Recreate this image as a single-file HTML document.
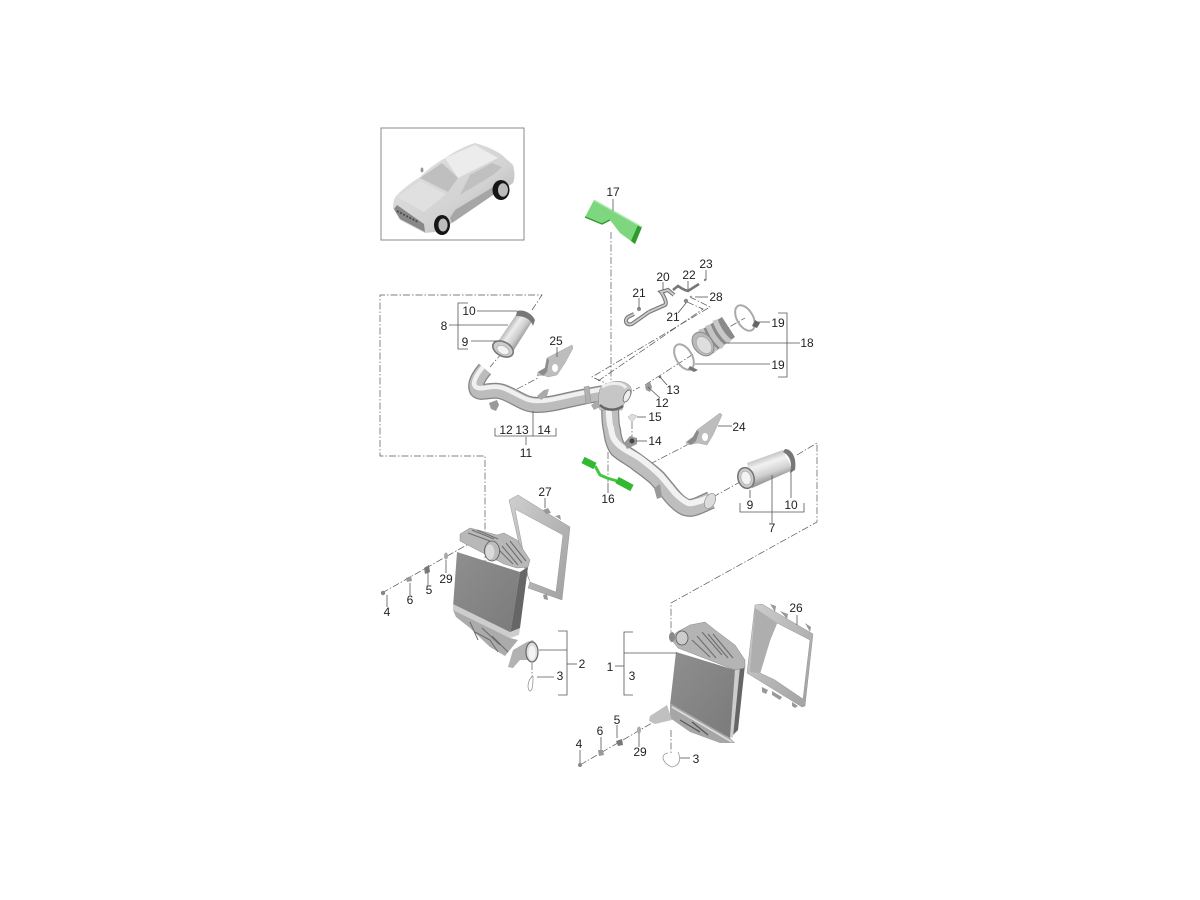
<!DOCTYPE html>
<html><head><meta charset="utf-8"><title>Parts diagram</title>
<style>html,body{margin:0;padding:0;background:#fff}svg{display:block}text{font-family:"Liberation Sans",sans-serif;font-size:12px;fill:#222;text-anchor:middle}</style></head>
<body>
<svg width="1200" height="900" viewBox="0 0 1200 900" xmlns="http://www.w3.org/2000/svg">
<defs>
<linearGradient id="car" x1="0" y1="0" x2="1" y2="1"><stop offset="0" stop-color="#e4e4e4"/><stop offset=".6" stop-color="#d2d2d2"/><stop offset="1" stop-color="#a5a5a5"/></linearGradient>
<linearGradient id="core" x1="0" y1="0" x2="1" y2="1"><stop offset="0" stop-color="#8f8f8f"/><stop offset="1" stop-color="#7a7a7a"/></linearGradient>
<linearGradient id="t8" gradientUnits="userSpaceOnUse" x1="505" y1="328" x2="522" y2="340"><stop offset="0" stop-color="#a8a8a8"/><stop offset=".35" stop-color="#ececec"/><stop offset=".7" stop-color="#cdcdcd"/><stop offset="1" stop-color="#939393"/></linearGradient>
<linearGradient id="t7" gradientUnits="userSpaceOnUse" x1="764" y1="454" x2="773" y2="480"><stop offset="0" stop-color="#b5b5b5"/><stop offset=".35" stop-color="#f2f2f2"/><stop offset=".7" stop-color="#d2d2d2"/><stop offset="1" stop-color="#959595"/></linearGradient>
<linearGradient id="frame" x1="0" y1="0" x2="1" y2="1"><stop offset="0" stop-color="#cfcfcf"/><stop offset="1" stop-color="#a0a0a0"/></linearGradient>
<filter id="s"><feGaussianBlur stdDeviation=".18"/></filter>
</defs>

<rect x="381" y="128" width="143" height="112" fill="#fff" stroke="#888" stroke-width="1"/>
<g filter="url(#s)">
<path d="M393 208 C393 200 395 197 397 195 C405 187 412 182 420 177 C428 169 436 163 445 158 C455 151 465 146 475 143 C486 146 495 150 502 155 L513 165 C515 172 515 178 513 183 L503 190 L493 195 L452 223 L435 232 L425 233 L400 220 Z" fill="url(#car)"/>
<path d="M420 178 L442 163 L458 178 L448 192 Z" fill="#bfbfbf"/>
<path d="M460 195 L470 175 L492 163 L502 167 L493 175 L463 193 Z" fill="#c0c0c0"/>
<path d="M445 158 L475 145 L498 158 L470 172 L458 178 Z" fill="#ececec"/>
<path d="M397 197 L420 181 L446 194 L424 212 Z" fill="#e0e0e0"/>
<path d="M452 223 L493 195 L495 186 L455 210 L450 218 Z" fill="#a6a6a6"/>
<path d="M394 209 L400 219 L425 232 L424 224 L397 205 Z" fill="#888"/>
<path d="M397 211 L418 222" stroke="#444" stroke-width="1.6" stroke-dasharray="2 1.5" fill="none"/>
<ellipse cx="442" cy="225" rx="8" ry="10" fill="#151515"/><ellipse cx="443" cy="225" rx="4.6" ry="6.5" fill="#bbb"/>
<ellipse cx="501" cy="190" rx="8.5" ry="10" fill="#151515"/><ellipse cx="503" cy="190" rx="5" ry="6.8" fill="#bbb"/>
<ellipse cx="422" cy="170" rx="1.5" ry="2.5" fill="#999"/>
</g>

<g fill="none" stroke="#555" stroke-width=".7" stroke-dasharray="7 2 1.5 2">
<path d="M532 310 L542 295 H380 V456 H485 V567"/>
<path d="M797 455 L817 443 V522 L671 603 V643"/>
<path d="M611 232 V392"/>
<path d="M612 386 L592 377 L710 307 L690 297"/>
<path d="M598 381 L703 309 L687 302"/>
<path d="M502 353 L490 367"/><path d="M517 389 L538 378"/>
<path d="M713 497 L740 482"/><path d="M650 464 L687 445"/>
<path d="M632 422 V440"/><path d="M608 452 V482"/>
<path d="M625 395 L640 387"/><path d="M645 385 L695 353"/><path d="M698 345 L745 318"/>
<path d="M382 593 L472 542"/><path d="M580 765 L652 723"/>
<path d="M532 663 V677"/><path d="M671 730 V753"/>
</g>

<g filter="url(#s)">
<path d="M594 200 L642 227 L635 244 L620 233 L610 220 L602 224 L585 217 Z" fill="#7ed67e"/>
<path d="M642 227 L635 244 L631 241 L638 225 Z" fill="#2f9b2f"/>
<path d="M594 200 L642 227" stroke="#b5ecb5" stroke-width="1.5" fill="none"/>
<path d="M585 217 L602 224 L610 220" stroke="#2f9b2f" stroke-width="1.4" fill="none"/>

<path d="M583 460 L595 466" stroke="#33b833" stroke-width="7" fill="none"/>
<path d="M595 466 L600 475 L607 478 L617 481" stroke="#42c742" stroke-width="3" fill="none"/>
<path d="M617 480 L632 488" stroke="#33b833" stroke-width="7" fill="none"/>

<g fill="none">
<path d="M485 369 C479 376 474 384 477 390 C481 395 492 388 503 392 C517 397 524 405 537 405 C555 405 570 398 610 392" stroke="#858585" stroke-width="16"/>
<path d="M485 369 C479 376 474 384 477 390 C481 395 492 388 503 392 C517 397 524 405 537 405 C555 405 570 398 610 392" stroke="#bcbcbc" stroke-width="13.5"/>
<path d="M483 367 C477 374 471 384 476 387 C481 391 492 384 503 388 C517 393 524 401 537 401 C555 401 570 394 610 388" stroke="#f0f0f0" stroke-width="4.5"/>
</g>
<path d="M584 387 L589 386 L591 403 L586 404 Z" fill="#b0b0b0" stroke="#888" stroke-width=".4"/>
<path d="M489 403 L497 400 L499 405 L496 411 L491 409 Z" fill="#999"/>
<path d="M537 396 L544 390 L549 389 L547 396 L541 400 Z" fill="#aaa"/>
<path d="M591 405 L600 399 L604 405 L594 410 Z" fill="#aaa"/>

<g fill="none">
<path d="M610 392 C610 405 610 425 612 430 C613 440 615 445 618 449 C625 455 632 458 638 463 C646 469 652 473 658 479 C663 485 668 491 672 496 C677 502 681 505 685 507 C691 509 695 507 700 505 L711 500" stroke="#858585" stroke-width="18"/>
<path d="M610 392 C610 405 610 425 612 430 C613 440 615 445 618 449 C625 455 632 458 638 463 C646 469 652 473 658 479 C663 485 668 491 672 496 C677 502 681 505 685 507 C691 509 695 507 700 505 L711 500" stroke="#bebebe" stroke-width="15.5"/>
<path d="M609 392 C608 405 609 425 611 428 C612 438 615 441 619 445 C627 452 635 454 641 459 C649 465 655 470 661 476 C666 482 671 488 675 493 C680 498 684 501 688 503 C692 504 696 502 700 501 L708 498" stroke="#f2f2f2" stroke-width="6"/>
</g>
<ellipse cx="710" cy="501" rx="5" ry="8" transform="rotate(25 710 501)" fill="#dcdcdc" stroke="#888" stroke-width=".6"/>
<path d="M654 488 L660 484 L662 497 L657 499 Z" fill="#999"/>
<path d="M624 443 L630 436 L637 438 L637 444 L627 449 Z" fill="#999"/>
<circle cx="632" cy="441" r="2.5" fill="#444"/>

<path d="M600 389 C606 381 622 378 630 386 C634 392 630 398 625 401 L622 410 H600 C598 403 598 396 600 389 Z" fill="#c6c6c6" stroke="#888" stroke-width=".5"/>
<path d="M602 387 C610 382 622 382 626 388" stroke="#eee" stroke-width="3" fill="none"/>
<path d="M600 405 C606 411 616 411 623 406" stroke="#666" stroke-width="2.4" fill="none"/>
<ellipse cx="627" cy="396" rx="3" ry="6.5" transform="rotate(25 627 396)" fill="#eee" stroke="#666" stroke-width=".8"/>

<path d="M518 312 L533 320 L512 353 L497 343 Z" fill="url(#t8)"/>
<path d="M517 311 C523 309 532 313 535 320 L533 326 C531 319 524 316 516 316 Z" fill="#777"/>
<ellipse cx="503" cy="349" rx="11" ry="7" transform="rotate(28 503 349)" fill="#ccc" stroke="#777" stroke-width="1.6"/>
<ellipse cx="503" cy="350" rx="6.5" ry="4" transform="rotate(28 503 350)" fill="#f4f4f4" stroke="#aaa" stroke-width=".7"/>

<path d="M547 358 L572 345 L573 348 L565 363 L557 375 L548 377 L543 375 L537 376 L538 372 L545 368 Z" fill="#bdbdbd" stroke="#999" stroke-width=".4"/>
<path d="M538 372 L545 368 L547 358 L549 360 L547 372 L543 376 Z" fill="#8c8c8c"/>
<ellipse cx="555" cy="368" rx="3" ry="4" fill="#fff"/>
<path d="M697 430 L720 413 L722 415 L713 435 L707 445 L698 443 L687 445 L686 442 L693 437 Z" fill="#bdbdbd" stroke="#999" stroke-width=".4"/>
<path d="M687 442 L693 437 L697 430 L699 432 L696 441 L691 445 Z" fill="#8c8c8c"/>
<ellipse cx="705" cy="437" rx="3" ry="4" fill="#fff"/>

<path d="M747 463 L783 450 L793 470 L752 488 Z" fill="url(#t7)"/>
<path d="M785 449 C792 449 797 458 795 470 L790 473 C793 462 789 455 783 452 Z" fill="#777"/>
<ellipse cx="746" cy="478" rx="8" ry="10.5" transform="rotate(-15 746 478)" fill="#ccc" stroke="#777" stroke-width="1.6"/>
<ellipse cx="746" cy="478" rx="5" ry="7" transform="rotate(-15 746 478)" fill="#f3f3f3" stroke="#aaa" stroke-width=".7"/>

<path d="M698 332 L722 317 L735 337 L712 354 Z" fill="#8a8a8a"/>
<path d="M701 329 Q706 343 716 351" stroke="#c4c4c4" stroke-width="5.5" fill="none"/>
<path d="M708 325 Q713 339 723 347" stroke="#c4c4c4" stroke-width="5.5" fill="none"/>
<path d="M715 320 Q720 334 730 342" stroke="#c8c8c8" stroke-width="5.5" fill="none"/>
<ellipse cx="703" cy="344" rx="9.5" ry="13" transform="rotate(-38 703 344)" fill="#b9b9b9" stroke="#8a8a8a" stroke-width="1"/>
<ellipse cx="704" cy="345" rx="6.5" ry="9.5" transform="rotate(-38 704 345)" fill="#dedede" stroke="#a0a0a0" stroke-width=".6"/>

<ellipse cx="745" cy="318" rx="8" ry="14" transform="rotate(-30 745 318)" fill="none" stroke="#aaa" stroke-width="2"/>
<path d="M755 320 L760 323 L757 328 L752 326 Z" fill="#666"/>
<ellipse cx="684" cy="357" rx="8" ry="14" transform="rotate(-30 684 357)" fill="none" stroke="#aaa" stroke-width="2"/>
<path d="M690 366 L698 370 L694 372 L688 369 Z" fill="#777"/>

<path d="M649 312 L632 324 C626 326 624 320 628 317 L634 314 M649 312 L665 305 C668 303 662 293 661 292 L668 290 L674 295" fill="none" stroke="#777" stroke-width="4"/>
<path d="M649 312 L632 324 C626 326 624 320 628 317 L634 314 M649 312 L665 305 C668 303 662 293 661 292 L668 290 L674 295" fill="none" stroke="#ccc" stroke-width="1.8"/>
<path d="M673 290 L678 286 L681 288 L685 290 L688 291 L699 284" fill="none" stroke="#777" stroke-width="2.6"/>
<circle cx="639" cy="309" r="2" fill="#888"/><circle cx="686" cy="301" r="2.2" fill="#888"/><circle cx="691" cy="297" r="1.2" fill="#999"/><circle cx="705" cy="280" r="1.2" fill="#888"/>
<path d="M645 386 L650 382 L652 387 L650 392 L646 390 Z" fill="#999"/><circle cx="660" cy="377" r="1.3" fill="#777"/>
<path d="M637 416 L632 414 L628 417 L632 422 Z" fill="#ddd" stroke="#aaa" stroke-width=".5"/>

<path fill-rule="evenodd" d="M509 500 L518 495 L570 527 L568 545 L562 600 L528 588 L530 582 L525 570 Z M515 509 L563 535 L556 592 L530 582 L528 576 Z" fill="url(#frame)" stroke="#888" stroke-width=".4"/>
<path d="M543 510 L548 508 L551 513 L546 514 Z M555 516 L560 515 L561 520 Z M543 595 L547 594 L548 600 L544 599 Z" fill="#999"/>

<path d="M457 552 L453 607 L510 635 L520 572 Z" fill="url(#core)"/>
<path d="M520 572 L528 567 L520 628 L510 635 Z" fill="#666"/>
<path d="M453 604 L510 632 L520 628 L519 635 L510 638 L453 610 Z" fill="#cdcdcd"/>
<path d="M460 534 L470 528 L497 535 L504 533 L517 540 L530 560 L528 567 L517 568 L504 564 L460 541 Z" fill="#b8b8b8" stroke="#777" stroke-width=".4"/>
<path d="M468 533 L490 541 M472 530 L494 539 M477 530 L498 539 M510 541 L526 561 M506 543 L522 563 M502 546 L518 565 M498 549 L513 564" stroke="#6e6e6e" stroke-width="1.1" fill="none"/>
<ellipse cx="492" cy="551" rx="7.5" ry="10" fill="#bbb" stroke="#555" stroke-width=".8"/>
<ellipse cx="490" cy="552" rx="4.5" ry="7.5" fill="#dadada"/>
<path d="M453 610 L510 638 L518 640 L505 656 L490 647 L470 628 L456 617 Z" fill="#ababab"/>
<path d="M475 632 L490 640 L498 652 M482 628 L500 645 M492 636 L508 652 M470 622 L478 640" stroke="#6a6a6a" stroke-width="1" fill="none"/>
<path d="M508 667 L513 650 L527 642 L533 640 L538 652 L530 660 L520 660 L513 668 Z" fill="#b2b2b2"/>
<ellipse cx="532" cy="652" rx="6" ry="10" fill="#ddd" stroke="#666" stroke-width="1.2"/>
<ellipse cx="532" cy="653" rx="3.5" ry="7" fill="#f4f4f4"/>
<path d="M533 676 C527 680 527 690 530 691 C532 691 533 687 533 676" fill="none" stroke="#999" stroke-width=".8"/>

<path fill-rule="evenodd" d="M755 605 L762 604 L813 634 L805 706 L802 707 L747 673 Z M777 623 L810 640 L803 699 L775 680 L760 673 L770 640 Z" fill="url(#frame)" stroke="#888" stroke-width=".4"/>
<path d="M755 608 L777 623 L770 640 L760 673 L750 672 Z" fill="#aeaeae"/>
<path d="M770 604 L776 606 L775 612 Z M780 611 L788 614 L787 619 Z M805 623 L811 627 L810 632 Z M762 687 L768 690 L766 694 L762 692 Z M772 691 L782 697 L780 700 L772 695 Z M792 702 L798 706 L795 708 L792 706 Z" fill="#999"/>

<path d="M676 652 L670 705 L730 738 L735 670 Z" fill="url(#core)"/>
<path d="M735 670 L745 665 L738 730 L730 738 Z" fill="#666"/>
<path d="M735 670 L740 667 L733 737 L730 738 Z" fill="#cdcdcd"/>
<path d="M670 638 L677 632 L690 625 L705 622 L715 630 L735 645 L745 660 L745 668 L735 670 L678 648 Z" fill="#b4b4b4" stroke="#777" stroke-width=".4"/>
<path d="M702 632 L722 655 M708 634 L728 658 M697 636 L716 658 M692 640 L710 657 M713 634 L733 658" stroke="#6e6e6e" stroke-width="1.1" fill="none"/>
<ellipse cx="682" cy="638" rx="6" ry="7" fill="#ccc" stroke="#555" stroke-width=".8"/>
<ellipse cx="672" cy="637" rx="3" ry="5" fill="#888"/>
<path d="M670 703 L730 738 L735 743 L720 743 L690 732 L670 718 Z" fill="#a6a6a6"/>
<path d="M667 705 L672 720 L655 724 L649 721 L650 716 Z" fill="#c0c0c0"/>
<path d="M672 707 L732 742" stroke="#dcdcdc" stroke-width="1.6" fill="none"/>
<path d="M680 720 L700 732 M692 722 L708 735" stroke="#555" stroke-width="1.2" fill="none"/>
<path d="M668 753 C660 754 662 763 672 767 C682 765 680 756 678 752" fill="none" stroke="#999" stroke-width=".8"/>

<circle cx="383" cy="593" r="2.2" fill="#888"/>
<path d="M406 578 L411 576 L412 581 L407 582 Z" fill="#999"/>
<path d="M424 568 L429 565 L430 572 L425 574 Z" fill="#777"/>
<ellipse cx="446" cy="556" rx="2" ry="3.5" fill="#aaa"/>
<circle cx="580" cy="765" r="2" fill="#888"/>
<path d="M598 750 L603 750 L604 755 L599 756 Z" fill="#999"/>
<path d="M616 741 L622 739 L623 745 L618 746 Z" fill="#777"/>
<ellipse cx="639" cy="730" rx="2" ry="3.5" fill="#aaa"/>
</g>

<g fill="none" stroke="#555" stroke-width=".8">
<path d="M468 303 H458 V349 H468"/>
<path d="M449 325 H508"/><path d="M477 311 H517"/><path d="M471 341 H497"/>
<path d="M495 428 V436 H556 V428"/><path d="M533 411 V436"/><path d="M526 437 V445"/>
<path d="M778 313 H787 V377 H778"/><path d="M726 343 H800"/><path d="M758 322 H770"/><path d="M695 364 H770"/>
<path d="M740 503 V512 H804 V503"/><path d="M772 475 V523"/><path d="M750 490 V498"/><path d="M791 470 V498"/>
<path d="M558 631 H567 V695 H558"/><path d="M567 664 H577"/><path d="M539 650 H567"/><path d="M537 677 H554"/>
<path d="M633 632 H624 V695 H633"/><path d="M615 666 H624"/><path d="M624 653 H677"/>
<path d="M613 199 V211"/><path d="M557 347 V357"/><path d="M667 385 L660 377"/><path d="M660 398 L648 387"/>
<path d="M637 417 H646"/><path d="M636 441 H647"/><path d="M718 426 H732"/><path d="M608 483 V493"/>
<path d="M545 498 V508"/><path d="M446 560 V573"/><path d="M428 572 V585"/><path d="M410 583 V595"/><path d="M387 595 V607"/>
<path d="M797 615 V625"/><path d="M617 725 V738"/><path d="M601 737 V750"/><path d="M580 750 V763"/><path d="M639 733 V747"/><path d="M680 758 H690"/>
<path d="M663 282 V290"/><path d="M688 281 V290"/><path d="M706 270 V280"/><path d="M639 298 V308"/><path d="M695 297 H708"/><path d="M686 303 L678 313"/>
</g>

<text x="613" y="196">17</text><text x="663" y="281">20</text><text x="689" y="279">22</text><text x="706" y="268">23</text>
<text x="639" y="297">21</text><text x="716" y="301">28</text><text x="673" y="321">21</text>
<text x="778" y="327">19</text><text x="807" y="347">18</text><text x="778" y="369">19</text>
<text x="469" y="315">10</text><text x="444" y="330">8</text><text x="465" y="346">9</text><text x="556" y="345">25</text>
<text x="673" y="394">13</text><text x="662" y="407">12</text><text x="655" y="421">15</text><text x="655" y="445">14</text><text x="739" y="431">24</text>
<text x="506" y="434">12</text><text x="522" y="434">13</text><text x="544" y="434">14</text><text x="526" y="457">11</text>
<text x="608" y="503">16</text><text x="750" y="509">9</text><text x="791" y="509">10</text><text x="772" y="532">7</text>
<text x="545" y="496">27</text><text x="446" y="583">29</text><text x="429" y="594">5</text><text x="410" y="604">6</text><text x="387" y="616">4</text>
<text x="582" y="668">2</text><text x="560" y="680">3</text>
<text x="796" y="612">26</text><text x="610" y="671">1</text><text x="632" y="680">3</text>
<text x="617" y="724">5</text><text x="600" y="735">6</text><text x="579" y="748">4</text><text x="640" y="756">29</text><text x="696" y="763">3</text>
</svg>
</body></html>
